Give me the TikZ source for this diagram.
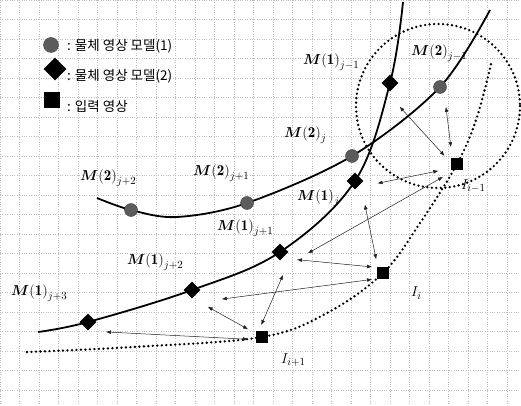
\documentclass[tikz,border=0pt]{standalone}
\usepackage{amsmath}
\usepackage{fontspec}
\newfontfamily\kor{Noto Sans CJK KR}
\usetikzlibrary{arrows.meta,shapes.geometric}
\definecolor{raster}{HTML}{BEBEBE}
\definecolor{punkt}{HTML}{5C5C5C}
\definecolor{dunkel}{HTML}{1E1E1E}
\newcommand{\mlab}[2]{$\boldsymbol{M}\mathbf{(#1)}_{#2}$}
\tikzset{
  netz/.style={raster,dotted,line width=0.4pt},
  kurve/.style={black,line width=1.8pt},
  spur/.style={black,line width=2.6pt,line cap=round,dash pattern=on 0pt off 4.5pt},
  pfeil/.style={{Latex[length=5pt,width=3.8pt]}-{Latex[length=5pt,width=3.8pt]},dunkel,line width=0.5pt},
  kreis/.style={circle,fill=punkt,draw=black!75,line width=0.4pt,minimum size=13pt,inner sep=0pt},
  raute/.style={diamond,fill=black,minimum size=17pt,inner sep=0pt},
  bild/.style={rectangle,fill=black,minimum size=12.5pt,inner sep=0pt},
  beschr/.style={anchor=west,inner sep=0pt,font=\fontsize{15}{17}\selectfont},
  legtext/.style={anchor=west,inner sep=0pt,font=\kor\fontsize{13.5}{15}\selectfont},
}

\begin{document}
\begin{tikzpicture}[x=1pt,y=-1pt]
  \useasboundingbox (0,0) rectangle (521,406);
  \draw[netz] (0,0) grid[step=19.5pt] (521,406);

  % Legende
  \node[kreis,minimum size=15pt] (lkreis) at (51,45) {};
  \node[raute,minimum size=23pt] (lraute) at (55,69) {};
  \node[bild,minimum size=16pt] (lbild) at (52,100) {};
  \node[legtext] (ltext1) at (67,46) {: 물체 영상 모델(1)};
  \node[legtext] (ltext2) at (67,76) {: 물체 영상 모델(2)};
  \node[legtext] (ltext3) at (67,106) {: 입력 영상};

  % Suchbereich und Eingangsspur
  \draw[spur] (438,106) circle (82);
  \draw[spur] plot[smooth,tension=0.6] coordinates {(27,352) (133,347) (262,337) (327,313) (383,273) (420,223) (457,164) (477,117) (492,60)};

  % Modellkurven
  \draw[kurve] plot[smooth,tension=0.6] coordinates {(38,332) (88,322) (192,290) (280,252) (355,181) (390,83) (403,2)};
  \draw[kurve] plot[smooth,tension=0.55] coordinates {(97,198) (131,210) (177,217) (247,203) (352,156) (440,87) (490,10)};

  \node[kreis] (M2jp2) at (131,210) {};
  \node[kreis] (M2jp1) at (247,203) {};
  \node[kreis] (M2j) at (352,156) {};
  \node[kreis] (M2jm1) at (440,87) {};
  \node[raute] (M1jp3) at (88,322) {};
  \node[raute] (M1jp2) at (192,290) {};
  \node[raute] (M1jp1) at (280,252) {};
  \node[raute] (M1j) at (355,181) {};
  \node[raute] (M1jm1) at (390,83) {};
  \node[bild] (Iim1) at (457,164) {};
  \node[bild] (Ii) at (383,273) {};
  \node[bild] (Iip1) at (262,337) {};

  % Zuordnungen
  \draw[pfeil,shorten <=32pt,shorten >=11pt] ([xshift=-12pt]M1jm1.center) -- ([xshift=-5pt]Iim1.center);
  \draw[pfeil,shorten <=20pt,shorten >=17pt] ([xshift=3.5pt]M2jm1.center) -- ([xshift=-4pt]Iim1.center);
  \draw[pfeil,shorten <=23pt,shorten >=19pt] ([yshift=-7pt]M1j.center) -- ([yshift=-3pt]Iim1.center);
  \draw[pfeil,shorten <=32pt,shorten >=16pt] ([yshift=-17pt]M1jp1.center) -- ([yshift=-5pt]Iim1.center);
  \draw[pfeil,shorten <=24pt,shorten >=14pt] ([xshift=5pt]M1j.center) -- ([xshift=-4pt]Ii.center);
  \draw[pfeil,shorten <=17pt,shorten >=11pt] ([yshift=-6pt]M1jp1.center) -- ([yshift=5pt]Ii.center);
  \draw[pfeil,shorten <=30pt,shorten >=11pt] ([yshift=-13pt]M1jp2.center) -- ([yshift=-5pt]Ii.center);
  \draw[pfeil,shorten <=25pt,shorten >=13pt] ([xshift=13pt]M1jp1.center) -- ([xshift=-6pt]Iip1.center);
  \draw[pfeil,shorten <=18pt,shorten >=16pt] ([yshift=-8pt]M1jp2.center) -- (Iip1.center);
  \draw[pfeil,shorten <=18pt,shorten >=14pt] ([yshift=-9pt]M1jp3.center) -- ([yshift=-3pt]Iip1.center);

  % Beschriftungen
  \node[beschr] (tM1jm1) at (303,62) {\mlab{1}{j-1}};
  \node[beschr] (tM2jm1) at (411,53) {\mlab{2}{j-1}};
  \node[beschr] (tM2j) at (284,135) {\mlab{2}{j}};
  \node[beschr] (tM2jp1) at (193,173) {\mlab{2}{j+1}};
  \node[beschr] (tM2jp2) at (80,178) {\mlab{2}{j+2}};
  \node[beschr] (tM1j) at (297,198) {\mlab{1}{j}};
  \node[beschr] (tM1jp1) at (217,228) {\mlab{1}{j+1}};
  \node[beschr] (tM1jp2) at (127,262) {\mlab{1}{j+2}};
  \node[beschr] (tM1jp3) at (11,293) {\mlab{1}{j+3}};
  \node[beschr] (tIim1) at (461,186) {$I_{i-1}$};
  \node[beschr] (tIi) at (411,293) {$I_i$};
  \node[beschr] (tIip1) at (281,360) {$I_{i+1}$};
\end{tikzpicture}
\end{document}
